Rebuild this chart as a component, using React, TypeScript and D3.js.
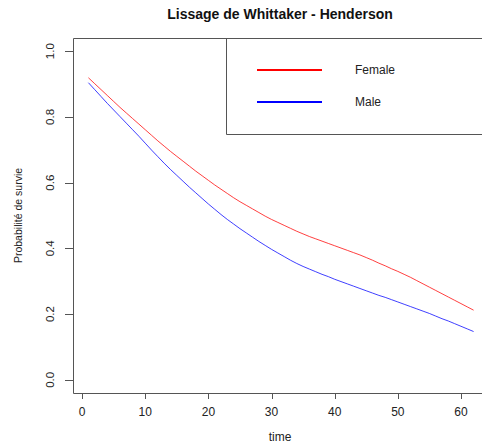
import React from "react";
import * as d3 from "d3";

// Smoothed survival probabilities by time (Whittaker-Henderson)
const times: number[] = d3.range(1, 63);
const female: number[] = [
  0.919, 0.901, 0.883, 0.865, 0.847, 0.829, 0.812, 0.795, 0.778, 0.761,
  0.744, 0.727, 0.711, 0.695, 0.68, 0.665, 0.65, 0.635, 0.621, 0.607,
  0.593, 0.58, 0.567, 0.554, 0.542, 0.531, 0.52, 0.509, 0.498, 0.488,
  0.479, 0.47, 0.461, 0.452, 0.444, 0.436, 0.429, 0.422, 0.415, 0.408,
  0.401, 0.394, 0.387, 0.38, 0.372, 0.364, 0.355, 0.347, 0.338, 0.33,
  0.321, 0.312, 0.302, 0.292, 0.282, 0.272, 0.262, 0.252, 0.242, 0.232,
  0.222, 0.212,
];
const male: number[] = [
  0.904, 0.883, 0.862, 0.841, 0.821, 0.801, 0.781, 0.761, 0.741, 0.72,
  0.699, 0.679, 0.659, 0.64, 0.622, 0.604, 0.586, 0.569, 0.552, 0.535,
  0.519, 0.503, 0.488, 0.474, 0.46, 0.447, 0.434, 0.421, 0.409, 0.397,
  0.386, 0.375, 0.364, 0.354, 0.345, 0.337, 0.329, 0.321, 0.314, 0.306,
  0.299, 0.292, 0.285, 0.278, 0.271, 0.264, 0.257, 0.251, 0.244, 0.237,
  0.23, 0.223, 0.216, 0.209, 0.202, 0.194, 0.186, 0.179, 0.171, 0.163,
  0.155, 0.147,
];
const xTicks: number[] = [0, 10, 20, 30, 40, 50, 60];
const yTicks: number[] = [0, 0.2, 0.4, 0.6, 0.8, 1.0];
const seriesNames: string[] = ["Female", "Male"];
const seriesColors: string[] = ["#ff0000", "#0000ff"];

const W = 482;
const H = 443;
const left = 73;
const top = 38;
const bottom = 393;
const right = 489;

const font = "'Liberation Sans', Arial, Helvetica, sans-serif";
const axisColor = "#555";
const textColor = "#222";

export default function App() {
  const x = d3.scaleLinear().domain([-1.44, 64.44]).range([left, right]);
  const y = d3.scaleLinear().domain([-0.04, 1.04]).range([bottom, top]);
  const line = d3
    .line<number>()
    .x((_, i) => x(times[i]))
    .y((d) => y(d));

  const series = [female, male];

  return (
    <svg
      width={W}
      height={H}
      style={{ position: "absolute", left: 0, top: 0, background: "#fff" }}
      fontFamily={font}
    >
      <rect width={W} height={H} fill="#fff" />
      <text
        x={280}
        y={19}
        textAnchor="middle"
        fontWeight="bold"
        fontSize={14}
        fill="#111"
      >
        Lissage de Whittaker - Henderson
      </text>

      {/* plot box (clipped on the right) */}
      <path
        d={`M${W},${top + 0.5}H${left + 0.5}V${bottom + 0.5}H${W}`}
        fill="none"
        stroke={axisColor}
        strokeWidth={1}
      />

      {/* y axis ticks and labels */}
      {yTicks.map((t) => (
        <g key={`y${t}`}>
          <line
            x1={65}
            x2={left}
            y1={Math.round(y(t)) + 0.5}
            y2={Math.round(y(t)) + 0.5}
            stroke={axisColor}
          />
          <text
            transform={`translate(54,${y(t)}) rotate(-90)`}
            textAnchor="middle"
            fontSize={11.5}
            fill={textColor}
          >
            {d3.format(".1f")(t)}
          </text>
        </g>
      ))}

      {/* x axis ticks and labels */}
      {xTicks.map((t) => (
        <g key={`x${t}`}>
          <line
            x1={Math.round(x(t)) + 0.5}
            x2={Math.round(x(t)) + 0.5}
            y1={bottom}
            y2={399}
            stroke={axisColor}
          />
          <text
            x={x(t)}
            y={416}
            textAnchor="middle"
            fontSize={12}
            fill={textColor}
          >
            {t}
          </text>
        </g>
      ))}

      <text x={280} y={441} textAnchor="middle" fontSize={12} fill={textColor}>
        time
      </text>
      <text
        transform={`translate(22,215.5) rotate(-90)`}
        textAnchor="middle"
        fontSize={10.5}
        fill={textColor}
      >
        Probabilité de survie
      </text>

      {/* curves */}
      {series.map((s, i) => (
        <path
          key={seriesNames[i]}
          d={line(s) ?? ""}
          fill="none"
          stroke={seriesColors[i]}
          strokeOpacity={0.75}
          strokeWidth={1}
        />
      ))}

      {/* legend */}
      <path
        d={`M${W},${top + 0.5}H226.5V134.5H${W}`}
        fill="none"
        stroke={axisColor}
      />
      {seriesNames.map((n, i) => (
        <g key={`leg${n}`}>
          <line
            x1={257}
            x2={322}
            y1={70 + i * 32}
            y2={70 + i * 32}
            stroke={seriesColors[i]}
            strokeWidth={2}
          />
          <text
            x={355}
            y={70 + i * 32}
            dy="0.35em"
            fontSize={12}
            fill={textColor}
          >
            {n}
          </text>
        </g>
      ))}
    </svg>
  );
}
